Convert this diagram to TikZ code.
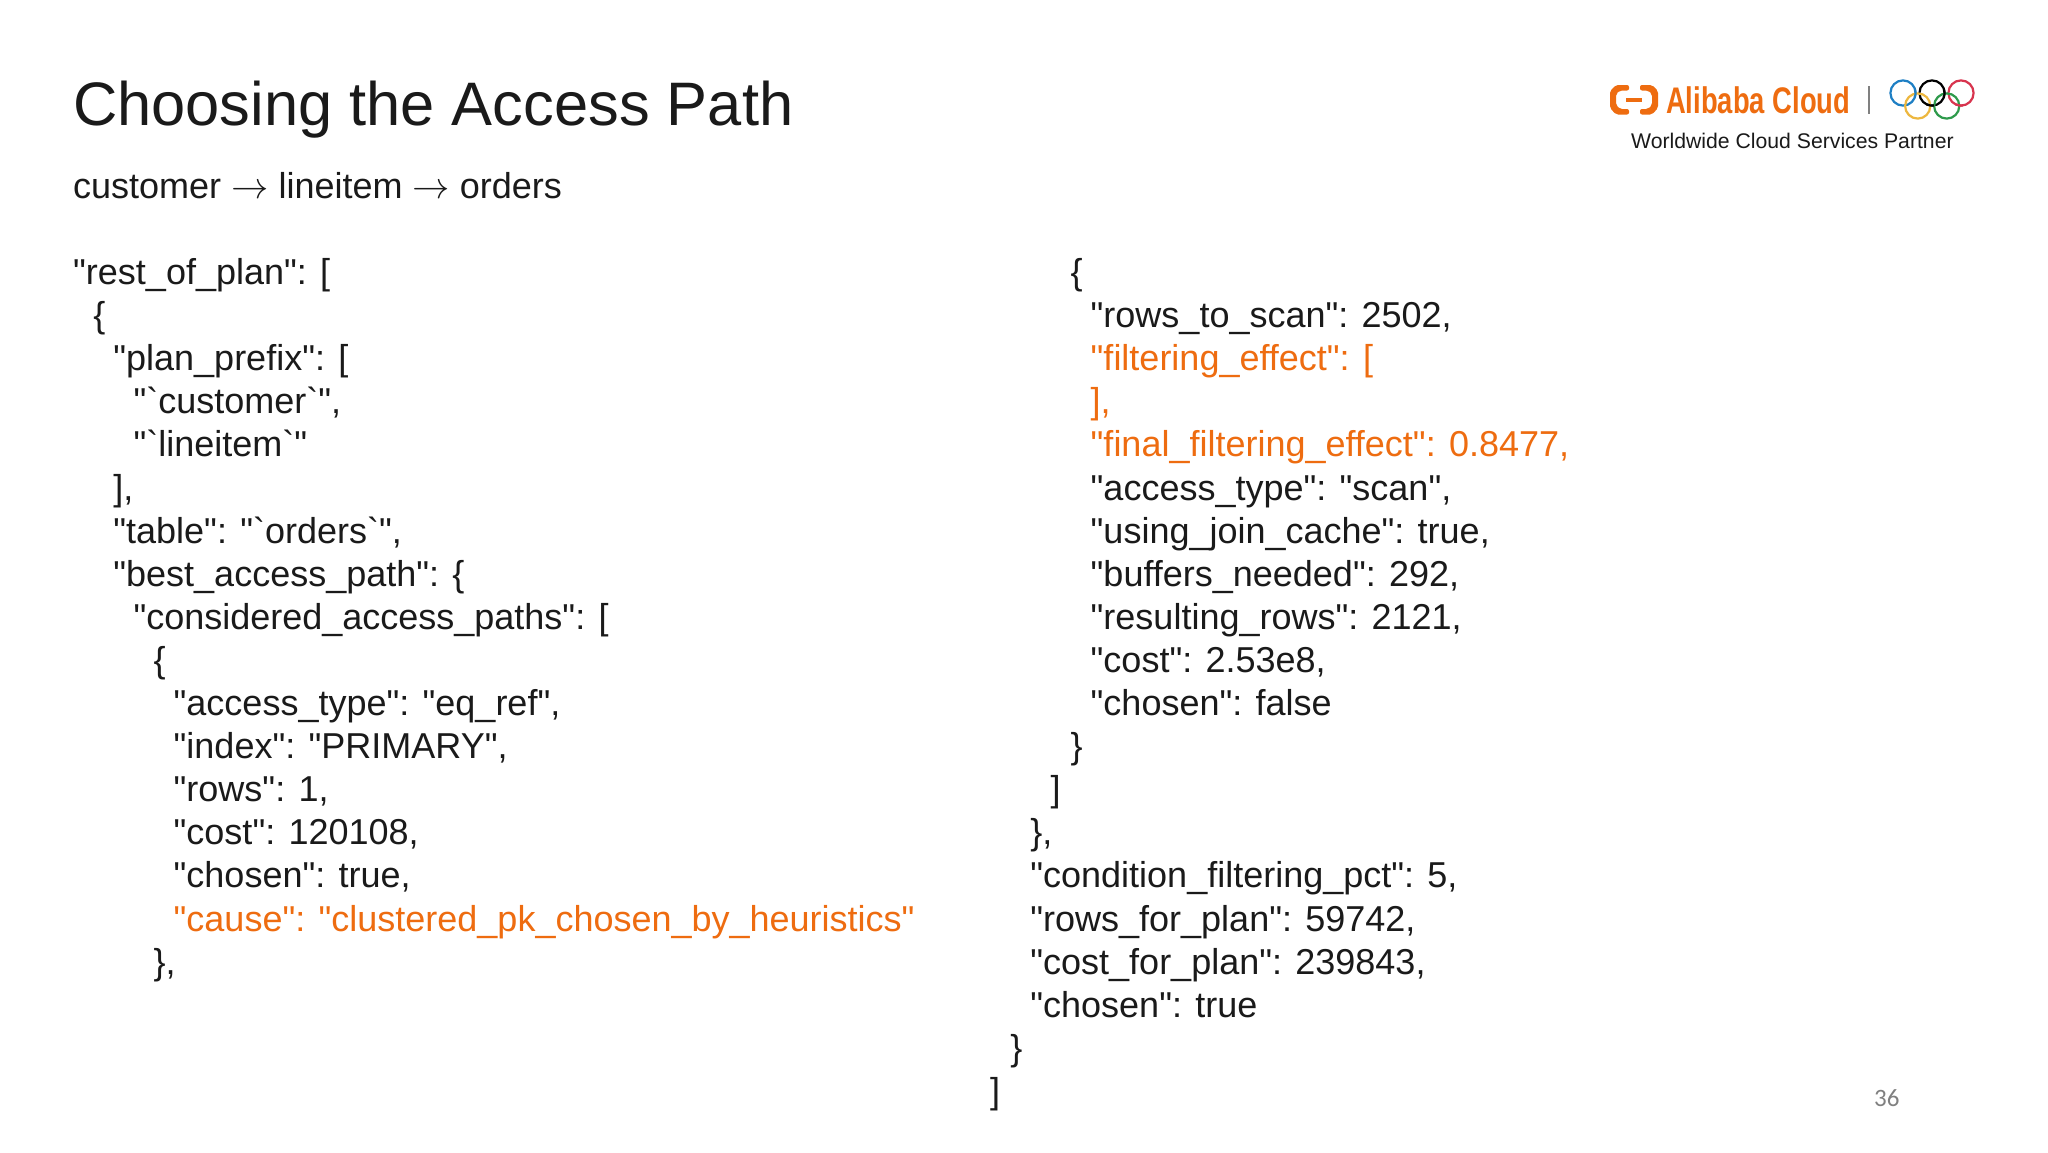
\documentclass[tikz,border=0pt]{standalone}
\usepackage{fontspec}
\usepackage{xcolor}
\usepackage{graphicx}
\newfontfamily\slidefont{Liberation Sans}
\newfontfamily\numfont{Carlito}
\definecolor{inkdark}{HTML}{1A1A1A}
\definecolor{hotorange}{HTML}{EE6C10}
\definecolor{ringblue}{HTML}{1E7FC4}
\definecolor{ringred}{HTML}{D8344E}
\definecolor{ringyellow}{HTML}{EDB73F}
\definecolor{ringgreen}{HTML}{2E9A4B}
\newcommand{\longarrow}{\raisebox{-0.5pt}{\scalebox{1.5}{$\rightarrow$}}}
\tikzset{
  plain/.style={anchor=base west,inner sep=0pt,text=inkdark,font=\slidefont\fontsize{36}{36}\selectfont},
  hot/.style={plain,text=hotorange},
  ring/.style={line width=2.2pt,radius=12.6}
}
\begin{document}
\begin{tikzpicture}[x=1pt,y=-1pt]
    \useasboundingbox[fill=white] (0,0) rectangle (2048,1152);
    \node[plain,font=\slidefont\fontsize{61.4}{61.4}\selectfont] (title) at (73,125) {Choosing the Access Path};
    \node[plain] (route) at (73,198) {customer \longarrow{} lineitem \longarrow{} orders};
    % left column
    \foreach \sty/\ind/\txt [count=\n] in {
        plain/0/{"rest\_of\_plan": [},
        plain/1/{\{},
        plain/2/{"plan\_prefix": [},
        plain/3/{"`customer`",},
        plain/3/{"`lineitem`"},
        plain/2/{],},
        plain/2/{"table": "`orders`",},
        plain/2/{"best\_access\_path": \{},
        plain/3/{"considered\_access\_paths": [},
        plain/4/{\{},
        plain/5/{"access\_type": "eq\_ref",},
        plain/5/{"index": "PRIMARY",},
        plain/5/{"rows": 1,},
        plain/5/{"cost": 120108,},
        plain/5/{"chosen": true,},
        hot/5/{"cause": "clustered\_pk\_chosen\_by\_heuristics"},
        plain/4/{\},}}
      \node[\sty] (left\n) at ({73+20.1*\ind},{284.5+43.1*(\n-1)}) {\txt};
    % right column
    \foreach \sty/\ind/\txt [count=\n] in {
        plain/4/{\{},
        plain/5/{"rows\_to\_scan": 2502,},
        hot/5/{"filtering\_effect": [},
        hot/5/{],},
        hot/5/{"final\_filtering\_effect": 0.8477,},
        plain/5/{"access\_type": "scan",},
        plain/5/{"using\_join\_cache": true,},
        plain/5/{"buffers\_needed": 292,},
        plain/5/{"resulting\_rows": 2121,},
        plain/5/{"cost": 2.53e8,},
        plain/5/{"chosen": false},
        plain/4/{\}},
        plain/3/{]},
        plain/2/{\},},
        plain/2/{"condition\_filtering\_pct": 5,},
        plain/2/{"rows\_for\_plan": 59742,},
        plain/2/{"cost\_for\_plan": 239843,},
        plain/2/{"chosen": true},
        plain/1/{\}},
        plain/0/{]}}
      \node[\sty] (right\n) at ({990+20.1*\ind},{284.5+43.1*(\n-1)}) {\txt};
    % logo
    \fill[hotorange,rounded corners=2pt] (1629,85) -- (1616,85) -- (1610,91) -- (1610,108) -- (1616,114.5) -- (1629,114.5) -- (1629,109) -- (1620,109) -- (1616,105) -- (1616,94) -- (1620,90.5) -- (1629,90.5) -- cycle;
    \fill[hotorange,rounded corners=2pt] (1640,85) -- (1652,85) -- (1658,91) -- (1658,108) -- (1652,114.5) -- (1640,114.5) -- (1640,109) -- (1648,109) -- (1652,105) -- (1652,94) -- (1648,90.5) -- (1640,90.5) -- cycle;
    \fill[hotorange] (1626,97.5) rectangle (1642,101.5);
    \node[plain,text=hotorange,font=\slidefont\bfseries\fontsize{37}{37}\selectfont,xscale=.74] (brand) at (1666,113) {Alibaba Cloud};
    \draw[line width=1.5pt,color=gray] (1869,86) -- (1869,114);
    \draw[ring,ringblue] (1903,93) circle;
    \draw[ring,black] (1932,93) circle;
    \draw[ring,ringred] (1961,93) circle;
    \draw[ring,ringyellow] (1917.7,106) circle;
    \draw[ring,ringgreen] (1946.7,106) circle;
    % rings pass over each other here
    \draw[ring,ringblue] (1903,93) ++(-15:12.6) arc[start angle=-15,end angle=20,radius=12.6];
    \draw[ring,black] (1932,93) ++(-15:12.6) arc[start angle=-15,end angle=20,radius=12.6];
    \draw[ring,black] (1932,93) ++(80:12.6) arc[start angle=80,end angle=115,radius=12.6];
    \draw[ring,ringred] (1961,93) ++(80:12.6) arc[start angle=80,end angle=115,radius=12.6];
    \node[plain,font=\slidefont\fontsize{21.2}{21.2}\selectfont] (partner) at (1631,148) {Worldwide Cloud Services Partner};
    \node[plain,text=gray,font=\numfont\fontsize{25}{25}\selectfont] (page) at (1874,1106) {36};
\end{tikzpicture}
\end{document}
